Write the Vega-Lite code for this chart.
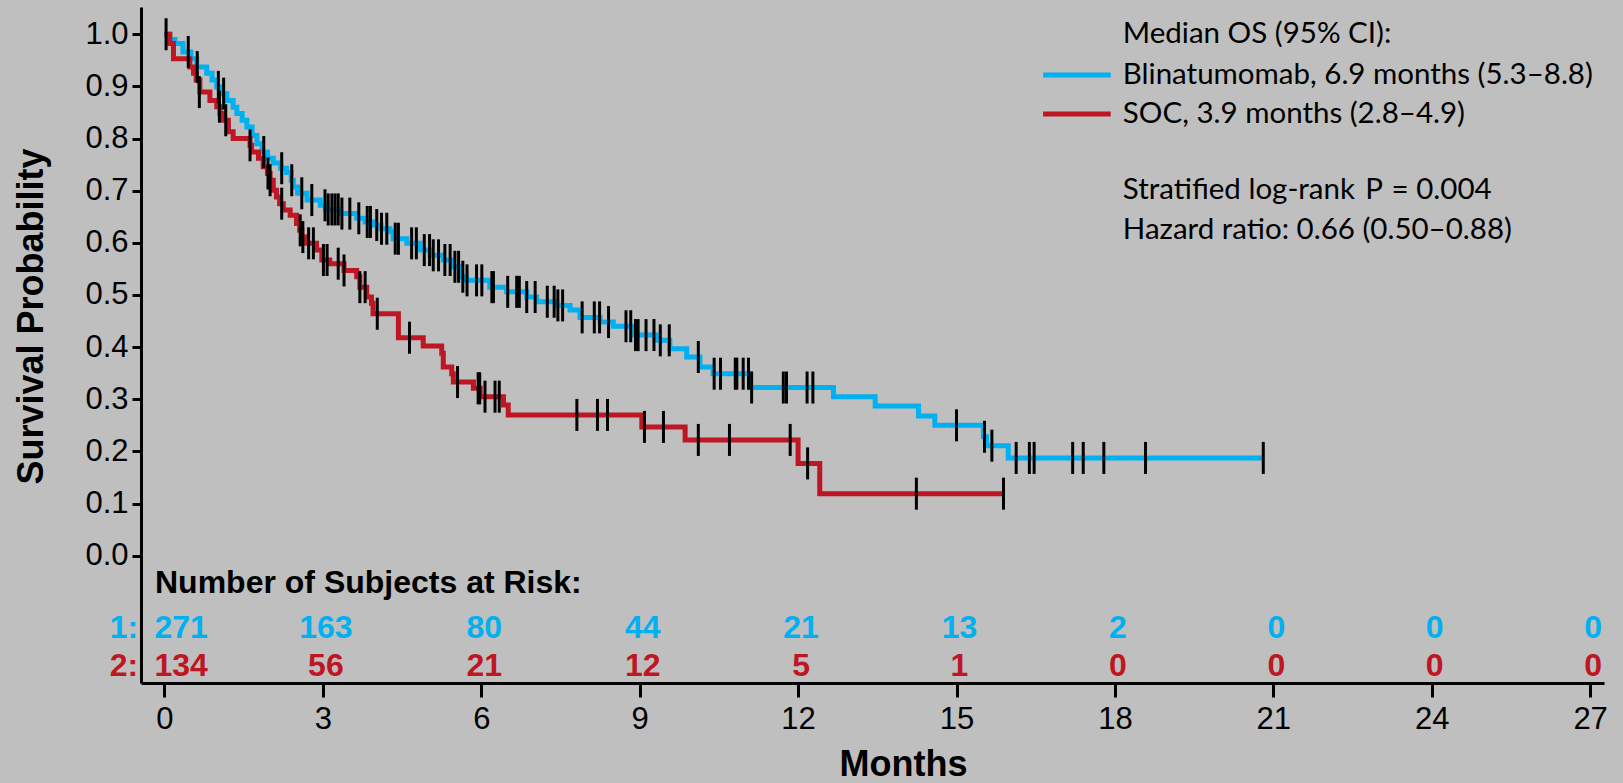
{
  "$schema": "https://vega.github.io/schema/vega-lite/v6.json",
  "autosize": {"type": "none"},
  "padding": {"left": 141, "top": 7, "right": 19, "bottom": 100},
  "width": 1463,
  "height": 676,
  "background": "#bfbfbf",
  "config": {"view": {"stroke": null}},
  "datasets": {
    "km": [
      {"arm":"B","t":0,"s":1.0},{"arm":"B","t":0.1,"s":0.99},{"arm":"B","t":0.2,"s":0.982},{"arm":"B","t":0.35,"s":0.966},{"arm":"B","t":0.5,"s":0.953},{"arm":"B","t":0.61,"s":0.937},{"arm":"B","t":0.8,"s":0.925},{"arm":"B","t":0.9,"s":0.912},{"arm":"B","t":0.99,"s":0.899},{"arm":"B","t":1.1,"s":0.886},{"arm":"B","t":1.18,"s":0.873},{"arm":"B","t":1.3,"s":0.86},{"arm":"B","t":1.37,"s":0.848},{"arm":"B","t":1.47,"s":0.835},{"arm":"B","t":1.56,"s":0.822},{"arm":"B","t":1.66,"s":0.806},{"arm":"B","t":1.75,"s":0.79},{"arm":"B","t":1.85,"s":0.774},{"arm":"B","t":1.95,"s":0.762},{"arm":"B","t":2.06,"s":0.753},{"arm":"B","t":2.2,"s":0.743},{"arm":"B","t":2.31,"s":0.735},{"arm":"B","t":2.4,"s":0.72},{"arm":"B","t":2.44,"s":0.707},{"arm":"B","t":2.52,"s":0.695},{"arm":"B","t":2.7,"s":0.682},{"arm":"B","t":2.95,"s":0.672},{"arm":"B","t":3.05,"s":0.664},{"arm":"B","t":3.32,"s":0.656},{"arm":"B","t":3.64,"s":0.647},{"arm":"B","t":3.8,"s":0.64},{"arm":"B","t":3.95,"s":0.634},{"arm":"B","t":4.1,"s":0.627},{"arm":"B","t":4.27,"s":0.621},{"arm":"B","t":4.33,"s":0.608},{"arm":"B","t":4.59,"s":0.599},{"arm":"B","t":4.84,"s":0.586},{"arm":"B","t":5.03,"s":0.576},{"arm":"B","t":5.28,"s":0.567},{"arm":"B","t":5.45,"s":0.554},{"arm":"B","t":5.6,"s":0.535},{"arm":"B","t":5.72,"s":0.528},{"arm":"B","t":6.16,"s":0.515},{"arm":"B","t":6.48,"s":0.506},{"arm":"B","t":6.86,"s":0.496},{"arm":"B","t":7.05,"s":0.487},{"arm":"B","t":7.43,"s":0.48},{"arm":"B","t":7.68,"s":0.471},{"arm":"B","t":7.87,"s":0.457},{"arm":"B","t":8.25,"s":0.448},{"arm":"B","t":8.5,"s":0.44},{"arm":"B","t":8.88,"s":0.423},{"arm":"B","t":9.32,"s":0.413},{"arm":"B","t":9.57,"s":0.397},{"arm":"B","t":9.89,"s":0.381},{"arm":"B","t":10.14,"s":0.362},{"arm":"B","t":10.39,"s":0.349},{"arm":"B","t":11.09,"s":0.3225},{"arm":"B","t":12.67,"s":0.305},{"arm":"B","t":13.46,"s":0.287},{"arm":"B","t":14.28,"s":0.268},{"arm":"B","t":14.59,"s":0.25},{"arm":"B","t":15.51,"s":0.228},{"arm":"B","t":15.57,"s":0.211},{"arm":"B","t":15.98,"s":0.1875},{"arm":"B","t":20.81,"s":0.1875},
      {"arm":"S","t":0,"s":1.0},{"arm":"S","t":0.1,"s":0.982},{"arm":"S","t":0.17,"s":0.953},{"arm":"S","t":0.48,"s":0.937},{"arm":"S","t":0.55,"s":0.925},{"arm":"S","t":0.6,"s":0.912},{"arm":"S","t":0.67,"s":0.889},{"arm":"S","t":0.86,"s":0.873},{"arm":"S","t":0.99,"s":0.861},{"arm":"S","t":1.05,"s":0.848},{"arm":"S","t":1.11,"s":0.835},{"arm":"S","t":1.21,"s":0.813},{"arm":"S","t":1.3,"s":0.8},{"arm":"S","t":1.62,"s":0.787},{"arm":"S","t":1.65,"s":0.774},{"arm":"S","t":1.78,"s":0.762},{"arm":"S","t":1.87,"s":0.746},{"arm":"S","t":1.95,"s":0.733},{"arm":"S","t":2.0,"s":0.72},{"arm":"S","t":2.06,"s":0.701},{"arm":"S","t":2.12,"s":0.688},{"arm":"S","t":2.18,"s":0.675},{"arm":"S","t":2.25,"s":0.663},{"arm":"S","t":2.38,"s":0.653},{"arm":"S","t":2.5,"s":0.637},{"arm":"S","t":2.56,"s":0.624},{"arm":"S","t":2.6,"s":0.611},{"arm":"S","t":2.69,"s":0.599},{"arm":"S","t":2.88,"s":0.586},{"arm":"S","t":2.98,"s":0.567},{"arm":"S","t":3.13,"s":0.56},{"arm":"S","t":3.4,"s":0.547},{"arm":"S","t":3.64,"s":0.535},{"arm":"S","t":3.7,"s":0.515},{"arm":"S","t":3.83,"s":0.496},{"arm":"S","t":3.92,"s":0.484},{"arm":"S","t":3.95,"s":0.464},{"arm":"S","t":4.43,"s":0.418},{"arm":"S","t":4.9,"s":0.402},{"arm":"S","t":5.25,"s":0.388},{"arm":"S","t":5.28,"s":0.362},{"arm":"S","t":5.44,"s":0.349},{"arm":"S","t":5.47,"s":0.333},{"arm":"S","t":5.85,"s":0.321},{"arm":"S","t":5.98,"s":0.305},{"arm":"S","t":6.42,"s":0.289},{"arm":"S","t":6.51,"s":0.27},{"arm":"S","t":9.04,"s":0.247},{"arm":"S","t":9.86,"s":0.222},{"arm":"S","t":12.0,"s":0.177},{"arm":"S","t":12.41,"s":0.119},{"arm":"S","t":15.89,"s":0.119}
    ],
    "cens": [
      {"arm":"B","t":0.03,"s":1.0},{"arm":"B","t":0.45,"s":0.966},{"arm":"B","t":0.62,"s":0.937},{"arm":"B","t":1.02,"s":0.899},{"arm":"B","t":1.12,"s":0.886},{"arm":"B","t":1.88,"s":0.774},{"arm":"B","t":2.22,"s":0.743},{"arm":"B","t":2.41,"s":0.72},{"arm":"B","t":2.6,"s":0.695},{"arm":"B","t":2.79,"s":0.682},{"arm":"B","t":3.04,"s":0.672},{"arm":"B","t":3.1,"s":0.664},{"arm":"B","t":3.17,"s":0.664},{"arm":"B","t":3.23,"s":0.664},{"arm":"B","t":3.29,"s":0.664},{"arm":"B","t":3.36,"s":0.656},{"arm":"B","t":3.51,"s":0.656},{"arm":"B","t":3.68,"s":0.647},{"arm":"B","t":3.84,"s":0.64},{"arm":"B","t":3.9,"s":0.64},{"arm":"B","t":4.02,"s":0.634},{"arm":"B","t":4.11,"s":0.627},{"arm":"B","t":4.21,"s":0.627},{"arm":"B","t":4.37,"s":0.608},{"arm":"B","t":4.43,"s":0.608},{"arm":"B","t":4.68,"s":0.599},{"arm":"B","t":4.77,"s":0.599},{"arm":"B","t":4.92,"s":0.586},{"arm":"B","t":5.02,"s":0.586},{"arm":"B","t":5.09,"s":0.576},{"arm":"B","t":5.19,"s":0.576},{"arm":"B","t":5.31,"s":0.567},{"arm":"B","t":5.41,"s":0.567},{"arm":"B","t":5.5,"s":0.554},{"arm":"B","t":5.57,"s":0.554},{"arm":"B","t":5.65,"s":0.535},{"arm":"B","t":5.73,"s":0.528},{"arm":"B","t":5.91,"s":0.528},{"arm":"B","t":6.01,"s":0.528},{"arm":"B","t":6.2,"s":0.515},{"arm":"B","t":6.23,"s":0.515},{"arm":"B","t":6.5,"s":0.506},{"arm":"B","t":6.67,"s":0.506},{"arm":"B","t":6.72,"s":0.506},{"arm":"B","t":6.86,"s":0.496},{"arm":"B","t":7.02,"s":0.496},{"arm":"B","t":7.25,"s":0.487},{"arm":"B","t":7.38,"s":0.487},{"arm":"B","t":7.45,"s":0.48},{"arm":"B","t":7.54,"s":0.48},{"arm":"B","t":7.91,"s":0.457},{"arm":"B","t":8.14,"s":0.457},{"arm":"B","t":8.24,"s":0.457},{"arm":"B","t":8.41,"s":0.448},{"arm":"B","t":8.74,"s":0.44},{"arm":"B","t":8.83,"s":0.44},{"arm":"B","t":8.92,"s":0.423},{"arm":"B","t":8.97,"s":0.423},{"arm":"B","t":9.12,"s":0.423},{"arm":"B","t":9.27,"s":0.423},{"arm":"B","t":9.39,"s":0.413},{"arm":"B","t":9.56,"s":0.413},{"arm":"B","t":10.11,"s":0.381},{"arm":"B","t":10.41,"s":0.349},{"arm":"B","t":10.53,"s":0.349},{"arm":"B","t":10.81,"s":0.349},{"arm":"B","t":10.84,"s":0.349},{"arm":"B","t":10.96,"s":0.349},{"arm":"B","t":11.06,"s":0.349},{"arm":"B","t":11.12,"s":0.3225},{"arm":"B","t":11.72,"s":0.3225},{"arm":"B","t":11.78,"s":0.3225},{"arm":"B","t":12.17,"s":0.3225},{"arm":"B","t":12.28,"s":0.3225},{"arm":"B","t":15.0,"s":0.25},{"arm":"B","t":15.53,"s":0.228},{"arm":"B","t":15.67,"s":0.211},{"arm":"B","t":16.13,"s":0.1875},{"arm":"B","t":16.38,"s":0.1875},{"arm":"B","t":16.47,"s":0.1875},{"arm":"B","t":17.2,"s":0.1875},{"arm":"B","t":17.4,"s":0.1875},{"arm":"B","t":17.79,"s":0.1875},{"arm":"B","t":18.58,"s":0.1875},{"arm":"B","t":20.81,"s":0.1875},
      {"arm":"S","t":0.66,"s":0.889},{"arm":"S","t":1.04,"s":0.861},{"arm":"S","t":1.16,"s":0.835},{"arm":"S","t":1.62,"s":0.787},{"arm":"S","t":1.96,"s":0.733},{"arm":"S","t":2.0,"s":0.72},{"arm":"S","t":2.22,"s":0.675},{"arm":"S","t":2.57,"s":0.624},{"arm":"S","t":2.62,"s":0.611},{"arm":"S","t":2.73,"s":0.599},{"arm":"S","t":2.82,"s":0.599},{"arm":"S","t":3.01,"s":0.567},{"arm":"S","t":3.08,"s":0.567},{"arm":"S","t":3.29,"s":0.56},{"arm":"S","t":3.4,"s":0.547},{"arm":"S","t":3.7,"s":0.515},{"arm":"S","t":3.8,"s":0.515},{"arm":"S","t":4.03,"s":0.464},{"arm":"S","t":4.64,"s":0.418},{"arm":"S","t":5.55,"s":0.333},{"arm":"S","t":5.94,"s":0.321},{"arm":"S","t":5.97,"s":0.321},{"arm":"S","t":6.07,"s":0.305},{"arm":"S","t":6.26,"s":0.305},{"arm":"S","t":6.34,"s":0.305},{"arm":"S","t":7.81,"s":0.27},{"arm":"S","t":8.2,"s":0.27},{"arm":"S","t":8.39,"s":0.27},{"arm":"S","t":9.09,"s":0.247},{"arm":"S","t":9.45,"s":0.247},{"arm":"S","t":10.11,"s":0.222},{"arm":"S","t":10.7,"s":0.222},{"arm":"S","t":11.85,"s":0.222},{"arm":"S","t":12.18,"s":0.177},{"arm":"S","t":14.24,"s":0.119},{"arm":"S","t":15.89,"s":0.119}
    ],
    "risk": [
      {"arm":"B","t":0,"n":271,"lvl":-0.1395},{"arm":"B","t":3,"n":163,"lvl":-0.1395},{"arm":"B","t":6,"n":80,"lvl":-0.1395},{"arm":"B","t":9,"n":44,"lvl":-0.1395},{"arm":"B","t":12,"n":21,"lvl":-0.1395},{"arm":"B","t":15,"n":13,"lvl":-0.1395},{"arm":"B","t":18,"n":2,"lvl":-0.1395},{"arm":"B","t":21,"n":0,"lvl":-0.1395},{"arm":"B","t":24,"n":0,"lvl":-0.1395},{"arm":"B","t":27,"n":0,"lvl":-0.1395},
      {"arm":"S","t":0,"n":134,"lvl":-0.211},{"arm":"S","t":3,"n":56,"lvl":-0.211},{"arm":"S","t":6,"n":21,"lvl":-0.211},{"arm":"S","t":9,"n":12,"lvl":-0.211},{"arm":"S","t":12,"n":5,"lvl":-0.211},{"arm":"S","t":15,"n":1,"lvl":-0.211},{"arm":"S","t":18,"n":0,"lvl":-0.211},{"arm":"S","t":21,"n":0,"lvl":-0.211},{"arm":"S","t":24,"n":0,"lvl":-0.211},{"arm":"S","t":27,"n":0,"lvl":-0.211}
    ],
    "rowlab": [
      {"arm":"B","t":-0.5,"label":"1:","lvl":-0.1395},
      {"arm":"S","t":-0.5,"label":"2:","lvl":-0.211}
    ],
    "leg": [
      {"arm":"B","x1":16.64,"x2":17.92,"y":0.922},
      {"arm":"S","x1":16.64,"x2":17.92,"y":0.847}
    ],
    "notes": [
      {"x":18.15,"y":1.0,"text":"Median OS (95% CI):","style":"normal"},
      {"x":18.15,"y":0.922,"text":"Blinatumomab, 6.9 months (5.3–8.8)","style":"normal"},
      {"x":18.15,"y":0.847,"text":"SOC, 3.9 months (2.8–4.9)","style":"normal"},
      {"x":18.15,"y":0.702,"text":"Stratified log-rank","style":"normal"},
      {"x":22.74,"y":0.702,"text":"P","style":"italic"},
      {"x":23.24,"y":0.702,"text":"= 0.004","style":"normal"},
      {"x":18.15,"y":0.6245,"text":"Hazard ratio: 0.66 (0.50–0.88)","style":"normal"}
    ]
  },
  "layer": [
    {
      "data": {"name": "km"},
      "mark": {"type": "line", "interpolate": "step-after", "strokeWidth": 5},
      "encoding": {
        "x": {"field": "t", "type": "quantitative", "scale": {"domain": [-0.445, 27.263], "nice": false, "zero": false},
          "axis": {"values": [0,3,6,9,12,15,18,21,24,27], "title": "Months", "grid": false,
            "domainColor": "black", "domainWidth": 3, "tickColor": "black", "tickWidth": 3, "tickSize": 14,
            "labelFont": "Liberation Sans", "labelFontSize": 31, "labelColor": "black", "labelPadding": 7,
            "titleFont": "Liberation Sans", "titleFontSize": 36, "titleFontWeight": "bold", "titleColor": "black",
            "titleX": 762, "titleY": 92, "titleBaseline": "alphabetic", "titleAlign": "center"}},
        "y": {"field": "s", "type": "quantitative", "scale": {"domain": [-0.2441, 1.0522], "nice": false, "zero": false},
          "axis": {"values": [0,0.1,0.2,0.3,0.4,0.5,0.6,0.7,0.8,0.9,1.0], "format": ".1f", "title": "Survival Probability", "grid": false,
            "domainColor": "black", "domainWidth": 3, "tickColor": "black", "tickWidth": 3, "tickSize": 9,
            "labelFont": "Liberation Sans", "labelFontSize": 31, "labelColor": "black", "labelPadding": 4,
            "titleFont": "Liberation Sans", "titleFontSize": 36, "titleFontWeight": "bold", "titleColor": "black",
            "titleX": -110, "titleY": 309, "titleBaseline": "middle", "titleAlign": "center", "titleAngle": 270}},
        "color": {"field": "arm", "type": "nominal", "scale": {"domain": ["B","S"], "range": ["#00b0f0","#be1622"]}, "legend": null}
      }
    },
    {
      "data": {"name": "cens"},
      "mark": {"type": "tick", "orient": "vertical", "size": 32, "thickness": 3, "color": "black", "opacity": 1},
      "encoding": {
        "x": {"field": "t", "type": "quantitative"},
        "y": {"field": "s", "type": "quantitative"}
      }
    },
    {
      "data": {"name": "leg"},
      "mark": {"type": "rule", "strokeWidth": 5},
      "encoding": {
        "x": {"field": "x1", "type": "quantitative"},
        "x2": {"field": "x2"},
        "y": {"field": "y", "type": "quantitative"},
        "color": {"field": "arm", "type": "nominal", "legend": null}
      }
    },
    {
      "data": {"name": "notes"},
      "mark": {"type": "text", "align": "left", "baseline": "middle", "font": "Lato", "fontSize": 29.5, "color": "black"},
      "encoding": {
        "x": {"field": "x", "type": "quantitative"},
        "y": {"field": "y", "type": "quantitative"},
        "text": {"field": "text"},
        "fontStyle": {"field": "style", "type": "nominal", "scale": null}
      }
    },
    {
      "data": {"values": [{"x": -0.18, "y": -0.052, "text": "Number of Subjects at Risk:"}]},
      "mark": {"type": "text", "align": "left", "baseline": "middle", "font": "Liberation Sans", "fontWeight": "bold", "fontSize": 32, "color": "black"},
      "encoding": {
        "x": {"field": "x", "type": "quantitative"},
        "y": {"field": "y", "type": "quantitative"},
        "text": {"field": "text"}
      }
    },
    {
      "data": {"name": "risk"},
      "transform": [{"filter": "datum.t > 0"}],
      "mark": {"type": "text", "align": "center", "baseline": "middle", "dx": 3, "font": "Liberation Sans", "fontWeight": "bold", "fontSize": 32},
      "encoding": {
        "x": {"field": "t", "type": "quantitative"},
        "y": {"field": "lvl", "type": "quantitative"},
        "text": {"field": "n"},
        "color": {"field": "arm", "type": "nominal", "legend": null}
      }
    },
    {
      "data": {"name": "risk"},
      "transform": [{"filter": "datum.t == 0"}],
      "mark": {"type": "text", "align": "left", "baseline": "middle", "dx": -10, "font": "Liberation Sans", "fontWeight": "bold", "fontSize": 32},
      "encoding": {
        "x": {"field": "t", "type": "quantitative"},
        "y": {"field": "lvl", "type": "quantitative"},
        "text": {"field": "n"},
        "color": {"field": "arm", "type": "nominal", "legend": null}
      }
    },
    {
      "data": {"name": "rowlab"},
      "mark": {"type": "text", "align": "right", "baseline": "middle", "font": "Liberation Sans", "fontWeight": "bold", "fontSize": 32},
      "encoding": {
        "x": {"field": "t", "type": "quantitative"},
        "y": {"field": "lvl", "type": "quantitative"},
        "text": {"field": "label"},
        "color": {"field": "arm", "type": "nominal", "legend": null}
      }
    }
  ]
}
